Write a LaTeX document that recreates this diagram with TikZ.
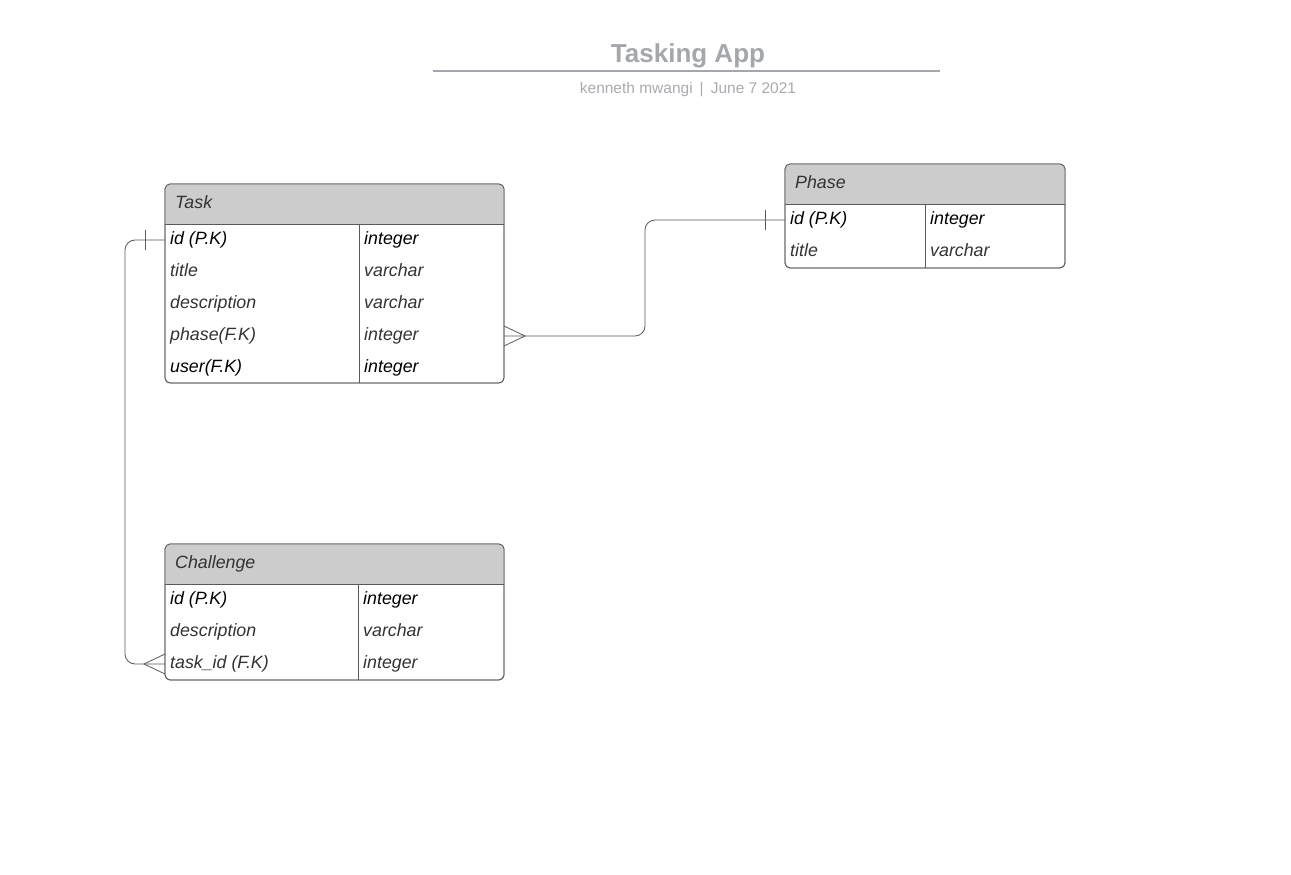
\documentclass[tikz,border=0pt]{standalone}
\usepackage{fontspec}
\setmainfont{Liberation Sans}
\definecolor{titc}{HTML}{A4A7AC}
\definecolor{subc}{HTML}{A8ABB0}
\definecolor{bordc}{HTML}{5A5A5A}
\definecolor{hdrc}{HTML}{CCCCCC}
\definecolor{txtg}{HTML}{333333}
\begin{document}
\begin{tikzpicture}[x=1pt,y=-1pt,
  tbl/.style={draw=bordc, line width=0.8pt, rounded corners=5pt, anchor=north west, inner sep=0pt, outer sep=0pt},
  bord/.style={draw=bordc, line width=0.8pt},
  rowbox/.style={minimum height=32pt, inner sep=0pt, outer sep=0pt, anchor=north west},
  fld/.style={font=\fontsize{17.8}{20}\selectfont\itshape, anchor=west, inner sep=0pt, text height=12.5pt, text depth=4.5pt},
  fldk/.style={fld, text=black},
  fldg/.style={fld, text=txtg},
  hdr/.style={font=\fontsize{17.8}{20}\selectfont\itshape, text=txtg, anchor=west, inner sep=0pt, text height=12.5pt, text depth=4.5pt},
  conn/.style={draw=bordc, line width=0.8pt}
]
\useasboundingbox (0,0) rectangle (1291,875);
\fill[white] (0,0) rectangle (1291,875);

% title
\node[font=\fontsize{26}{30}\selectfont\bfseries, text=titc, inner sep=0pt] (title) at (688,55.5) {Tasking App};
\draw[titc, line width=2pt] (433,71) -- (940,71);
\node[font=\fontsize{15.5}{18}\selectfont, text=subc, inner sep=0pt] (sub) at (688,89.5) {kenneth mwangi\hspace{7pt}|\hspace{7pt}June 7 2021};

% ---------- Task ----------
\node[tbl, fill=white, minimum width=339pt, minimum height=199pt] (task) at (165,184) {};
\begin{scope}
  \clip (165,184) rectangle (504,224);
  \fill[hdrc, rounded corners=5pt] (165,184) rectangle (504,260);
\end{scope}
\draw[bord] (165,224) -- (504,224);
\draw[bord] (359,224) -- (359,383);
\draw[bord, rounded corners=5pt] (task.north west) rectangle (task.south east);
\node[hdr] (task-h) at (175,204) {Task};
\node[rowbox, minimum width=339pt] (task-r1) at (165,224) {};
\node[rowbox, minimum width=339pt] (task-r2) at (165,256) {};
\node[rowbox, minimum width=339pt] (task-r3) at (165,288) {};
\node[rowbox, minimum width=339pt] (task-r4) at (165,320) {};
\node[rowbox, minimum width=339pt] (task-r5) at (165,352) {};
\node[fldk] (task-r1a) at (170,240) {id (P.K)};
\node[fldk] (task-r1b) at (364,240) {integer};
\node[fldg] (task-r2a) at (170,272) {title};
\node[fldg] (task-r2b) at (364,272) {varchar};
\node[fldg] (task-r3a) at (170,304) {description};
\node[fldg] (task-r3b) at (364,304) {varchar};
\node[fldg] (task-r4a) at (170,336) {phase(F.K)};
\node[fldg] (task-r4b) at (364,336) {integer};
\node[fldk] (task-r5a) at (170,368) {user(F.K)};
\node[fldk] (task-r5b) at (364,368) {integer};

% ---------- Phase ----------
\node[tbl, fill=white, minimum width=280pt, minimum height=104pt] (phase) at (785,164) {};
\begin{scope}
  \clip (785,164) rectangle (1065,204);
  \fill[hdrc, rounded corners=5pt] (785,164) rectangle (1065,240);
\end{scope}
\draw[bord] (785,204) -- (1065,204);
\draw[bord] (925,204) -- (925,268);
\draw[bord, rounded corners=5pt] (phase.north west) rectangle (phase.south east);
\node[hdr] (phase-h) at (795,184) {Phase};
\node[rowbox, minimum width=280pt] (phase-r1) at (785,204) {};
\node[rowbox, minimum width=280pt] (phase-r2) at (785,236) {};
\node[fldk] (phase-r1a) at (790,220) {id (P.K)};
\node[fldk] (phase-r1b) at (930,220) {integer};
\node[fldg] (phase-r2a) at (790,252) {title};
\node[fldg] (phase-r2b) at (930,252) {varchar};

% ---------- Challenge ----------
\node[tbl, fill=white, minimum width=339pt, minimum height=136pt] (chal) at (165,544) {};
\begin{scope}
  \clip (165,544) rectangle (504,584);
  \fill[hdrc, rounded corners=5pt] (165,544) rectangle (504,620);
\end{scope}
\draw[bord] (165,584) -- (504,584);
\draw[bord] (358,584) -- (358,680);
\draw[bord, rounded corners=5pt] (chal.north west) rectangle (chal.south east);
\node[hdr] (chal-h) at (175,564) {Challenge};
\node[rowbox, minimum width=339pt] (chal-r1) at (165,584) {};
\node[rowbox, minimum width=339pt] (chal-r2) at (165,616) {};
\node[rowbox, minimum width=339pt] (chal-r3) at (165,648) {};
\node[fldk] (chal-r1a) at (170,600) {id (P.K)};
\node[fldk] (chal-r1b) at (363,600) {integer};
\node[fldg] (chal-r2a) at (170,632) {description};
\node[fldg] (chal-r2b) at (363,632) {varchar};
\node[fldg] (chal-r3a) at (170,664) {task\_id (F.K)};
\node[fldg] (chal-r3b) at (363,664) {integer};

% ---------- connectors ----------
% Task.id  --  Challenge.task_id  (one to many)
\draw[conn, rounded corners=10pt] (task-r1.west) -- ++(-40,0) |- (chal-r3.west);
\draw[conn] ([xshift=-20pt,yshift=10pt]task-r1.west) -- ([xshift=-20pt,yshift=-10pt]task-r1.west);
\draw[conn] ([yshift=10pt]chal-r3.west) -- ([xshift=-21pt]chal-r3.west) -- ([yshift=-10pt]chal-r3.west);

% Task.phase  --  Phase.id  (many to one)
\draw[conn, rounded corners=10pt] (task-r4.east) -- ++(141,0) |- (phase-r1.west);
\draw[conn] ([xshift=-20pt,yshift=10pt]phase-r1.west) -- ([xshift=-20pt,yshift=-10pt]phase-r1.west);
\draw[conn] ([yshift=10pt]task-r4.east) -- ([xshift=21pt]task-r4.east) -- ([yshift=-10pt]task-r4.east);
\end{tikzpicture}
\end{document}
